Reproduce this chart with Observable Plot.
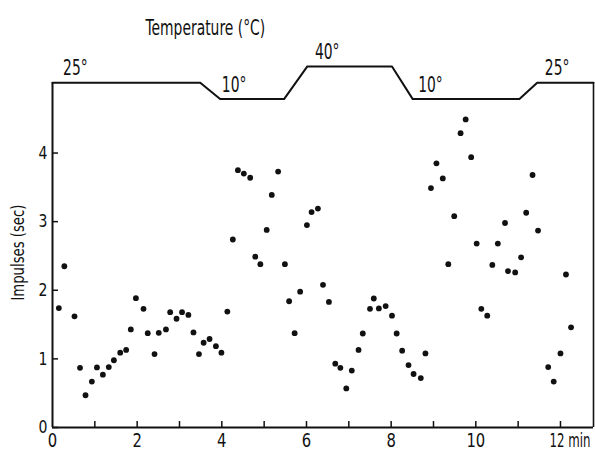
<!DOCTYPE html>
<html>
<head>
<meta charset="utf-8">
<script src="https://cdn.jsdelivr.net/npm/d3@7"></script>
<script src="https://cdn.jsdelivr.net/npm/@observablehq/plot@0.6"></script>
<style>
  html, body { margin: 0; padding: 0; background: #fff; }
  svg { display: block; }
</style>
</head>
<body>
<div id="chart"></div>
<script>
// Impulse measurements: time (min) and impulses (sec)
const times = [0.15,0.28,0.52,0.65,0.78,0.93,1.05,1.19,1.33,1.45,1.60,1.74,1.85,1.97,2.15,2.25,2.41,2.51,2.68,2.78,
  2.93,3.06,3.21,3.33,3.46,3.57,3.71,3.86,3.99,4.13,4.26,4.38,4.52,4.67,4.79,4.91,5.06,5.18,5.33,5.49,
  5.59,5.72,5.85,6.01,6.12,6.27,6.39,6.53,6.68,6.80,6.94,7.07,7.23,7.33,7.50,7.59,7.71,7.87,8.02,8.13,
  8.26,8.41,8.53,8.70,8.81,8.94,9.07,9.22,9.35,9.49,9.64,9.76,9.89,10.02,10.13,10.27,10.39,10.52,10.69,10.76,
  10.93,11.07,11.19,11.34,11.47,11.71,11.84,12.00,12.13,12.25];
const impulses = [1.74,2.35,1.62,0.87,0.47,0.67,0.875,0.77,0.88,0.98,1.09,1.13,1.43,1.885,1.73,1.375,1.07,1.38,1.43,1.68,
  1.585,1.68,1.64,1.385,1.07,1.235,1.29,1.185,1.09,1.69,2.74,3.75,3.70,3.64,2.49,2.38,2.88,3.39,3.73,2.38,
  1.84,1.375,1.98,2.95,3.14,3.19,2.08,1.83,0.93,0.87,0.57,0.83,1.13,1.37,1.73,1.88,1.735,1.77,1.63,1.37,
  1.12,0.91,0.78,0.72,1.08,3.49,3.85,3.63,2.38,3.08,4.29,4.49,3.94,2.68,1.73,1.63,2.37,2.68,2.98,2.28,
  2.26,2.48,3.13,3.68,2.87,0.88,0.67,1.08,2.23,1.46];

// Temperature program (°C) over time (min)
const tempTimes   = [0, 3.49, 3.96, 5.47, 6.02, 8.02, 8.51, 11.03, 11.45, 12.78];
const tempDegrees = [25, 25, 10, 10, 40, 40, 10, 10, 25, 25];

// Temperature level labels
const tempLabels     = ["25°", "10°", "40°", "10°", "25°"];
const tempLabelTimes = [0.54, 4.29, 6.49, 8.93, 11.92];
const tempLabelDeg   = [25, 10, 40, 10, 25];

// Axis ticks
const xTickLabels = [0, 2, 4, 6, 8, 10];
const xLastTick   = 12;
const xTickMarks  = [1, 2, 3, 4, 5, 6, 7, 8, 9, 10, 11, 12];
const yTicks      = [0, 1, 2, 3, 4];

const title = "Temperature (°C)";
const yLabel = "Impulses (sec)";
const xUnit = "min";
const lastLabel = `${xLastTick} ${xUnit}`;

// ---- layout ----
const W = 595, H = 451;
const mL = 52, mR = 2, mT = 40, mB = 24;
const xMax = 12.78, yMax = 5.64;
const frameW = W - mL - mR, frameH = H - mT - mB;
// temperature trace is drawn in the upper band of the impulse axis
const tY = t => 4.786 + (t - 10) * 0.01587;

const points = times.map((t, i) => ({t, v: impulses[i]}));
const trace = tempTimes.map((t, i) => ({t, deg: tempDegrees[i]}));
const labels = tempLabels.map((s, i) => ({s, t: tempLabelTimes[i], deg: tempLabelDeg[i]}));

const font = "'DejaVu Sans', sans-serif";

const chart = Plot.plot({
  width: W, height: H,
  marginLeft: mL, marginRight: mR, marginTop: mT, marginBottom: mB,
  style: {fontFamily: font, fontSize: "18px", color: "#111", background: "#fff"},
  x: {domain: [0, xMax]},
  y: {domain: [0, yMax]},
  marks: [
    // axes frame
    Plot.ruleY([0], {x1: 0, x2: xMax, stroke: "#111", strokeWidth: 2}),
    Plot.ruleX([0], {y1: 0, y2: tY(25), stroke: "#111", strokeWidth: 2}),
    Plot.ruleX([xMax], {y1: 0, y2: tY(25), stroke: "#111", strokeWidth: 1.6}),
    // inward ticks
    Plot.tickY(yTicks, {y: d => d, insetRight: frameW - 6, stroke: "#111", strokeWidth: 1.5}),
    Plot.tickX(xTickMarks, {x: d => d, insetTop: frameH - 6, stroke: "#111", strokeWidth: 1.5}),
    Plot.axisY({ticks: yTicks, tickFormat: d => String(d), tickSize: 0, tickPadding: 5, label: null, fontSize: 18}),
    Plot.axisX({ticks: xTickLabels, tickFormat: d => String(d), tickSize: 0, tickPadding: 6, label: null, fontSize: 19}),
    Plot.text([lastLabel], {frameAnchor: "bottom-right", lineAnchor: "top", dy: 6, dx: -3, textAnchor: "end", fontSize: 19, fill: "#111"}),
    Plot.text([yLabel], {frameAnchor: "left", y: 1.85, dx: -34, rotate: -90, fontSize: 17, fill: "#111"}),
    // temperature trace
    Plot.line(trace, {x: "t", y: d => tY(d.deg), stroke: "#111", strokeWidth: 2}),
    Plot.text(labels, {x: "t", y: d => tY(d.deg), text: "s", dy: -14, fontSize: 21, fill: "#111"}),
    Plot.text([title], {x: 3.61, y: 5.82, fontSize: 21, fill: "#111"}),
    // data
    Plot.dot(points, {x: "t", y: "v", r: 2.9, fill: "#111", stroke: "none"})
  ]
});
document.getElementById("chart").appendChild(chart);

// condense the type horizontally (about each text's own anchor) to match the narrow lettering
const targetWidths = {[title]: 120, [yLabel]: 96, [lastLabel]: 41};
chart.querySelectorAll("text").forEach(el => {
  const len = el.getComputedTextLength();
  if (!len) return;
  const txt = el.textContent;
  const factor = /°$/.test(txt) ? 0.66 : 0.78;
  const f = targetWidths[txt] != null ? targetWidths[txt] / len : factor;
  const xs = el.x && el.x.baseVal && el.x.baseVal.numberOfItems ? el.x.baseVal.getItem(0).value : 0;
  const prev = el.getAttribute("transform") || "";
  el.setAttribute("transform", `${prev} translate(${xs},0) scale(${f.toFixed(4)},1) translate(${-xs},0)`.trim());
});
</script>
</body>
</html>
